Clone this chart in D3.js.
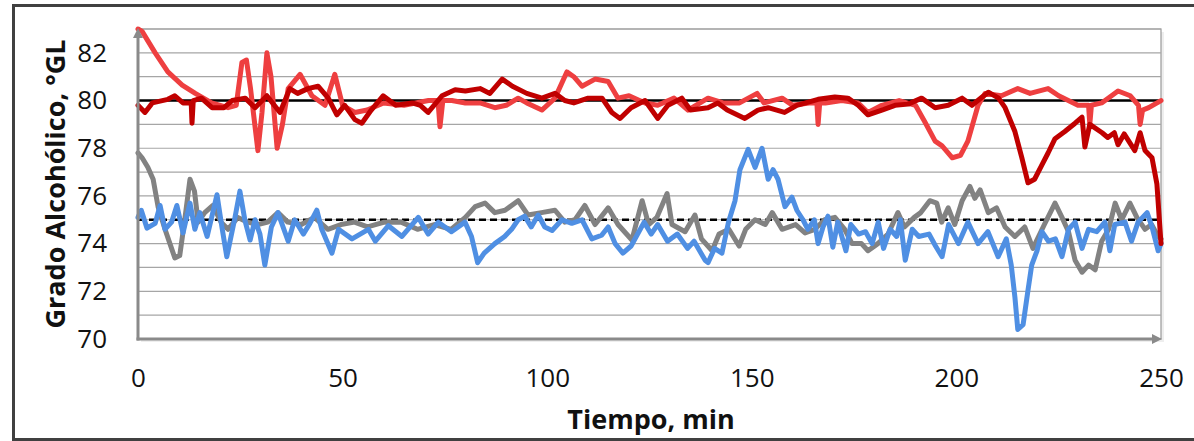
<!DOCTYPE html>
<html><head><meta charset="utf-8">
<script src="https://cdn.jsdelivr.net/npm/d3@7"></script>
<style>body{margin:0;background:#fff}svg{display:block}</style>
</head><body>
<svg id="c" width="1194" height="441"></svg>
<script>
// ---- data ----
const xTicks = [0, 50, 100, 150, 200, 250];
const yTicks = [70, 72, 74, 76, 78, 80, 82];
const gridValues = [71,72,73,74,75,76,77,78,79,80,81,82,83];
const setpointHigh = [[0,80],[250,80]];
const setpointLow = [[0,75],[250,75]];

const brightRed = [[0,83.0],[1,82.9],[4.2,82.0],[7.3,81.2],[10.8,80.65],[14,80.3],[18,79.9],[22,79.7],[24,79.8],[25.4,81.6],[26.5,81.7],[27.5,80.5],[29.3,77.9],[30.3,79.5],[31.5,82.0],[32.5,81.0],[34,78.0],[35.3,79.0],[36.7,80.5],[39.6,81.1],[42.5,80.2],[45.7,79.8],[48.1,81.1],[50,79.8],[53,79.5],[56,79.6],[60,79.9],[65,79.8],[71,80.0],[73.3,80.0],[73.8,78.9],[74.5,80.0],[76.7,80.0],[80,79.9],[83.6,79.9],[87.2,79.7],[90,79.8],[92.9,80.1],[95,79.9],[98.7,79.6],[101.9,80.1],[104.8,81.2],[106.5,81.0],[108.5,80.6],[111.7,80.9],[114.9,80.8],[117.3,80.1],[120,80.2],[123.9,79.9],[127,79.8],[131,80.1],[134.4,79.6],[139.3,80.1],[143,79.9],[147,79.9],[151.3,80.3],[153,79.9],[157.4,80.1],[160,79.8],[164,79.9],[165.9,79.9],[166.2,79.0],[166.6,79.9],[168,79.9],[172,80.0],[176,79.9],[178.4,79.5],[181.8,79.8],[186,80.0],[190,79.8],[192.3,79.1],[194.8,78.3],[196.5,78.1],[199,77.6],[201,77.7],[202.8,78.3],[205.3,79.8],[207,80.3],[211,80.2],[215,80.5],[218,80.3],[222.4,80.5],[225,80.2],[229.7,79.8],[232.3,79.8],[232.6,79.0],[233,79.8],[235.5,79.9],[239.5,80.4],[242.5,80.2],[244.5,79.8],[244.9,79.0],[245.5,79.6],[247,79.7],[250,80.0]];

const darkRed = [[0,79.8],[1.7,79.5],[3.5,79.9],[7.3,80.05],[9,80.2],[11,79.9],[13,79.9],[13.2,79.05],[13.5,80.0],[15.5,80.1],[18.1,79.7],[21,79.7],[23,80.0],[26.2,80.1],[28.6,79.7],[31.5,80.2],[34.7,79.5],[37.1,80.5],[39,80.3],[41.5,80.5],[44,80.6],[46.5,80.1],[48.6,79.4],[50.5,79.8],[53,79.2],[54.7,79.05],[57,79.6],[59.9,80.2],[63,79.8],[67,79.9],[69,79.8],[70.9,79.5],[74.3,80.2],[77.5,80.45],[80,80.4],[83.6,80.5],[86,80.3],[89,80.9],[91.5,80.6],[95,80.3],[98.7,80.1],[101.9,80.3],[104.3,80.0],[106.5,79.9],[110,80.1],[113.4,80.1],[115.8,79.5],[117.8,79.25],[120.5,79.7],[123.9,80.0],[127,79.25],[129.5,79.8],[132.9,80.1],[135,79.6],[139.3,79.7],[141.7,79.9],[144,79.6],[148.3,79.25],[151.5,79.6],[154,79.7],[158,79.5],[161,79.8],[166.2,80.05],[170.3,80.15],[173.5,80.1],[176,79.8],[178.4,79.4],[181.8,79.6],[185,79.8],[188.2,79.85],[191.5,80.1],[194.8,79.7],[198,79.8],[201.4,80.1],[203.8,79.8],[206.3,80.15],[207.8,80.35],[210.3,80.1],[211.9,79.7],[214.3,78.7],[216,77.6],[217.5,76.55],[219.1,76.7],[220.9,77.3],[222.4,77.8],[224.1,78.4],[226.5,78.7],[229,79.05],[230.7,79.3],[231.4,78.05],[232.6,79.0],[235.6,78.65],[237,78.45],[238.6,78.65],[239.5,78.15],[241,78.6],[243.6,77.9],[244.9,78.65],[246.1,77.9],[247.8,77.6],[249,76.5],[250,74.0]];

const grayLine = [[0,77.8],[1,77.6],[2.4,77.2],[3.7,76.7],[4.9,75.55],[6.6,74.6],[7.8,74.0],[9,73.4],[10.2,73.5],[11.5,75.1],[12.7,76.7],[13.8,76.2],[14.7,74.9],[16.3,75.3],[18.3,75.6],[20.3,74.9],[22,74.6],[24.4,75.1],[26.8,74.9],[29.3,74.8],[31.7,74.9],[34.2,75.3],[36.6,74.9],[39.9,74.8],[43.1,75.1],[46.4,74.6],[49.6,74.8],[52.9,74.9],[56.1,74.7],[60.2,74.9],[64.3,74.9],[68.3,74.6],[72.4,74.8],[76.5,74.6],[80,75.1],[82.4,75.55],[84.8,75.7],[87.2,75.3],[89.7,75.4],[92.9,75.8],[95.3,75.2],[98.6,75.3],[101.9,75.4],[104.3,74.9],[106.8,75.0],[109.2,75.6],[111.7,74.8],[114.9,75.5],[117.3,74.8],[120.7,74.15],[123.2,75.8],[124.8,74.8],[126.8,75.1],[129.3,76.1],[130.5,74.8],[133.7,74.5],[136.1,75.2],[137.7,74.2],[140.3,73.7],[142,74.4],[144.4,74.6],[146.9,73.9],[148.5,74.6],[150.8,75.0],[153.3,74.8],[155,75.3],[157.4,74.6],[160.7,74.8],[163,74.45],[165.4,74.6],[167.8,75.0],[170.3,75.1],[172.7,74.6],[174.5,74.0],[176.8,74.0],[178.4,73.7],[180.8,74.0],[183.3,74.4],[185.7,75.3],[187.3,74.7],[189.7,75.1],[191.3,75.3],[193.5,75.8],[195.2,75.7],[196.4,74.9],[198,75.5],[199.6,74.8],[201.4,75.8],[203.3,76.4],[204.5,75.9],[205.8,76.25],[207.8,75.3],[209.8,75.5],[211.9,74.7],[214.3,74.3],[216.7,74.7],[218.7,73.8],[221.5,74.8],[224.1,75.7],[225.8,75.1],[227.4,74.5],[229,73.3],[230.7,72.8],[232.3,73.1],[233.9,72.9],[235.5,74.1],[237.2,74.6],[238.8,75.7],[240.4,75.0],[242.4,75.7],[244.1,75.1],[246.1,74.6],[247.7,74.8],[249.3,74.3],[250,74.2]];

const blueLine = [[0,75.1],[0.8,75.4],[2.2,74.65],[4.2,74.85],[5.4,75.6],[6.6,74.6],[8.2,74.9],[9.5,75.6],[11,74.45],[12.7,75.7],[13.9,74.6],[15.1,75.3],[16.9,74.3],[19.3,76.05],[20.5,74.7],[21.7,73.45],[23.7,75.1],[24.9,76.2],[26.1,75.0],[27.4,74.15],[28.6,75.0],[29.8,74.4],[31,73.1],[32.6,74.7],[34.2,75.3],[36.7,74.1],[38.3,75.0],[40.4,74.4],[42,74.85],[43.7,75.4],[44.9,74.6],[47.4,73.6],[49,74.6],[52.3,74.2],[56.3,74.6],[58,74.1],[61.2,74.75],[64.5,74.3],[68.5,75.1],[70.9,74.4],[73.4,74.9],[76.6,74.5],[79.9,74.9],[81.5,74.3],[83,73.2],[84.6,73.6],[87.2,74.0],[89.6,74.3],[91.3,74.6],[92.9,75.0],[94.5,75.15],[96.1,74.7],[97.8,75.2],[99.4,74.7],[101.2,74.55],[103.6,75.0],[106,74.85],[108.5,75.0],[110.9,74.2],[113.3,74.35],[114.9,74.7],[116.6,74.0],[118.5,73.6],[120.5,73.9],[122.1,74.4],[123.7,74.9],[125.4,74.4],[127,74.8],[129.4,74.1],[131.8,74.4],[134.3,73.8],[135.9,74.1],[138.6,73.3],[139.3,73.2],[140.9,73.8],[142.7,73.6],[144.3,74.9],[145.9,75.8],[147.1,77.1],[149.1,77.95],[150.8,77.2],[152.5,78.0],[154,76.7],[155.2,77.1],[156.4,76.7],[158.1,75.55],[159.8,75.95],[161,75.4],[162.5,75.0],[163.7,74.6],[165.3,75.0],[166.2,74.0],[167.4,74.7],[168.6,75.15],[169.8,73.85],[171,74.9],[173,73.7],[174.2,74.8],[176.1,74.4],[177.8,74.5],[179.4,74.0],[180.9,74.9],[182.2,73.8],[183.8,74.6],[185.4,74.3],[186.3,75.0],[187.5,73.3],[189.2,74.6],[190.8,74.3],[193.3,74.4],[194.9,73.9],[196.5,73.45],[198.1,74.8],[200.5,74.0],[202.8,74.9],[205.3,74.0],[207.7,74.5],[210.2,73.45],[212.2,74.2],[213.4,73.1],[214.3,71.75],[215,70.4],[216.3,70.6],[217.5,72.05],[218.4,73.1],[219.7,73.7],[220.9,74.5],[222.5,74.1],[224.2,74.2],[225.8,73.45],[227.4,74.6],[229,74.9],[230.7,73.8],[232.3,74.6],[234.3,74.5],[236.3,74.9],[237.5,73.7],[238.7,74.8],[241.2,74.9],[242.8,74.1],[244.4,74.9],[246.6,75.3],[247.8,74.7],[249.3,73.7],[250,74.0]];

// ---- chart ----
const svg = d3.select("#c");
const x = d3.scaleLinear().domain([0, 250]).range([138, 1161]);
const y = d3.scaleLinear().domain([70, 83]).range([339, 29]);
const FONT = "'Open Sans', 'DejaVu Sans', sans-serif";

// outer frame
svg.append("rect").attr("x", 13.5).attr("y", 5.5).attr("width", 1200).attr("height", 434)
  .attr("fill", "#fff").attr("stroke", "#404040").attr("stroke-width", 3);

// plot area shadow + border
svg.append("rect").attr("x", x(0)+3).attr("y", y(83)+3).attr("width", x(250)-x(0)).attr("height", y(70)-y(83))
  .attr("fill", "#eeeeee");
svg.append("rect").attr("x", x(0)).attr("y", y(83)).attr("width", x(250)-x(0)).attr("height", y(70)-y(83))
  .attr("fill", "#fff").attr("stroke", "#9a9a9a").attr("stroke-width", 1.2);

// gridlines
svg.append("g").selectAll("line").data(gridValues).join("line")
  .attr("x1", x(0)).attr("x2", x(250)).attr("y1", d => y(d)).attr("y2", d => y(d))
  .attr("stroke", "#a6a6a6").attr("stroke-width", 1.2);

const line = d3.line().x(d => x(d[0])).y(d => y(d[1]));

// setpoints
svg.append("path").datum(setpointHigh).attr("d", line).attr("fill", "none")
  .attr("stroke", "#000").attr("stroke-width", 2.5);
svg.append("path").datum(setpointLow).attr("d", line).attr("fill", "none")
  .attr("stroke", "#000").attr("stroke-width", 2.5).attr("stroke-dasharray", "7,4");

const series = [
  {data: grayLine, color: "#828282"},
  {data: blueLine, color: "#4F8FE3"},
  {data: brightRed, color: "#EE3F40"},
  {data: darkRed, color: "#C00000"}
];
series.forEach(s => {
  svg.append("path").datum(s.data).attr("d", line).attr("fill", "none")
    .attr("stroke", s.color).attr("stroke-width", 5)
    .attr("stroke-linejoin", "round").attr("stroke-linecap", "round");
});

// axes
const axisColor = "#8a8a8a";
const yAxis = d3.axisLeft(y).tickValues(yTicks).tickSize(0).tickPadding(31);
const gy = svg.append("g").attr("transform", `translate(${x(0)},0)`).call(yAxis);
gy.select(".domain").remove();
gy.selectAll("text").attr("font-family", FONT).attr("font-size", 26).attr("fill", "#111");

const xAxis = d3.axisBottom(x).tickValues(xTicks).tickSize(0).tickPadding(30);
const gx = svg.append("g").attr("transform", `translate(0,${y(70)})`).call(xAxis);
gx.select(".domain").remove();
gx.selectAll("text").attr("font-family", FONT).attr("font-size", 26).attr("fill", "#111");

svg.append("line").attr("x1", x(0)).attr("x2", x(0)).attr("y1", y(70)+1.5).attr("y2", y(83)+6)
  .attr("stroke", axisColor).attr("stroke-width", 3);
svg.append("line").attr("x1", x(0)-1.5).attr("x2", x(250)-6).attr("y1", y(70)).attr("y2", y(70))
  .attr("stroke", axisColor).attr("stroke-width", 3);
// arrowheads
svg.append("path").attr("d", `M${x(0)-5},${y(83)+9} L${x(0)},${y(83)-1} L${x(0)+5},${y(83)+9} Z`).attr("fill", axisColor);
svg.append("path").attr("d", `M${x(250)-9},${y(70)-5} L${x(250)+1},${y(70)} L${x(250)-9},${y(70)+5} Z`).attr("fill", axisColor);

// titles
svg.append("text").attr("transform", `translate(65,184) rotate(-90)`)
  .attr("text-anchor", "middle").attr("font-family", FONT).attr("font-weight", "bold")
  .attr("font-size", 27).attr("fill", "#111").text("Grado Alcohólico, °GL");
svg.append("text").attr("x", 651).attr("y", 429)
  .attr("text-anchor", "middle").attr("font-family", FONT).attr("font-weight", "bold")
  .attr("font-size", 27).attr("fill", "#111").text("Tiempo, min");
</script>
</body></html>
